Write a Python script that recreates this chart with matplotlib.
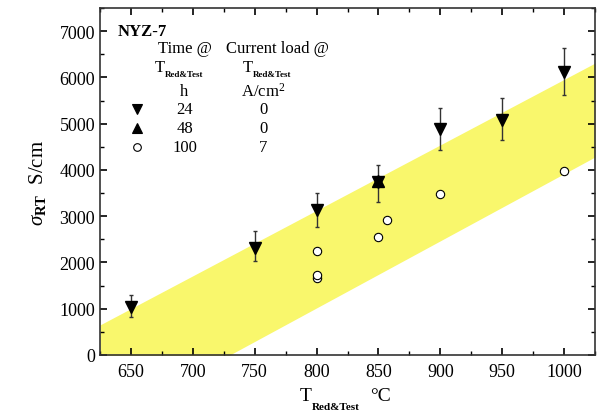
import numpy as np
import matplotlib
matplotlib.use("Agg")
import matplotlib.pyplot as plt
from matplotlib.ticker import MultipleLocator

plt.rcParams['font.family'] = ['Liberation Serif', 'DejaVu Serif']
plt.rcParams['mathtext.fontset'] = 'custom'
plt.rcParams['mathtext.rm'] = 'Liberation Serif'
plt.rcParams['mathtext.it'] = 'Liberation Serif:italic'
plt.rcParams['mathtext.bf'] = 'Liberation Serif:bold'

# 24 h, 0 A/cm2 (filled down triangles with error bars)
t24 = [650, 750, 800, 850, 900, 950, 1000]
s24 = [1040, 2320, 3130, 3730, 4880, 5090, 6120]
s24_lo = [830, 2030, 2770, 3310, 4440, 4640, 5630]
s24_hi = [1300, 2680, 3500, 4100, 5340, 5560, 6640]

# 48 h, 0 A/cm2
t48 = [850]
s48 = [3760]

# 100 h, 7 A/cm2 (open circles)
t100 = [800, 800, 800, 850, 857, 900, 1000]
s100 = [1670, 1730, 2250, 2550, 2920, 3490, 3980]

# yellow band
band_t = [625, 1025]
band_hi = [650, 6310]
band_lo = [-1520, 4280]

fig = plt.figure(figsize=(5.97, 4.14), dpi=100)
ax = fig.add_axes([100/597, 58/414, 495/597, 347/414])

ax.fill_between(band_t, band_lo, band_hi, color='#f9f76c', lw=0, zorder=1)

err = [np.array(s24) - np.array(s24_lo), np.array(s24_hi) - np.array(s24)]
ax.errorbar(t24, s24, yerr=err, fmt='v', color='black', ms=8, ecolor='#333333',
            elinewidth=1.0, capsize=1.5, zorder=3)
ax.plot(t48, s48, '^', color='black', ms=8, zorder=3)
ax.plot(t100, s100, 'o', mfc='white', mec='black', mew=0.8, ms=6, zorder=3)

ax.set_xlim(625, 1025)
ax.set_ylim(0, 7500)
ax.xaxis.set_major_locator(MultipleLocator(50))
ax.xaxis.set_minor_locator(MultipleLocator(25))
ax.yaxis.set_major_locator(MultipleLocator(1000))
ax.yaxis.set_minor_locator(MultipleLocator(500))
ax.tick_params(which='both', direction='in', top=True, right=True, labelsize=13)
ax.tick_params(which='major', length=5, width=1.2)
ax.tick_params(which='minor', length=3, width=1.0)
ax.tick_params(axis='x', pad=6)
for sp in ax.spines.values():
    sp.set_linewidth(1.2)
    sp.set_color('#333333')

ax.set_ylabel(r'$\sigma_{\mathbf{RT}}$  S/cm', fontsize=15, labelpad=8)


def fpos(px, py):
    return px / 597, 1 - py / 414


def t_redtest(px, py, size, subsize, subx, suby):
    fig.text(*fpos(px, py), 'T', fontsize=size, ha='left', va='center')
    fig.text(*fpos(subx, suby), 'Red&Test', fontsize=subsize, fontweight='bold',
             ha='left', va='center')


# x label
t_redtest(300, 397, 14, 8, 312, 408)
fig.text(*fpos(370, 397), '°C', fontsize=14, ha='left', va='center')

tr = ax.transAxes


def axpos(px, py):
    return (px - 100) / 495, (356 - py) / 347


ax.text(*axpos(118, 32), 'NYZ-7', transform=tr, fontsize=12, fontweight='bold',
        va='center', ha='left')
ax.text(*axpos(185, 49), 'Time @', transform=tr, fontsize=12, ha='center', va='center')
ax.text(*axpos(277, 49), 'Current load @', transform=tr, fontsize=12, ha='center', va='center')
t_redtest(155, 68, 12, 6.5, 165, 75)
t_redtest(243, 68, 12, 6.5, 253, 75)
ax.text(*axpos(184, 92), 'h', transform=tr, fontsize=12, ha='center', va='center')
ax.text(*axpos(263, 92), r'A/cm$^2$', transform=tr, fontsize=12, ha='center', va='center')

rows = [('v', 'black', '24', '0'), ('^', 'black', '48', '0'), ('o', 'white', '100', '7')]
for i, (m, fc, h, j) in enumerate(rows):
    py = 110 + i * 19
    ax.plot(*axpos(137, py), m, mfc=fc, mec='black', ms=7 if m != 'o' else 5.5,
            mew=0.8, transform=tr, clip_on=False)
    ax.text(*axpos(185, py), h, transform=tr, fontsize=12, ha='center', va='center')
    ax.text(*axpos(263, py), j, transform=tr, fontsize=12, ha='center', va='center')

fig.savefig('out.png', dpi=100)
